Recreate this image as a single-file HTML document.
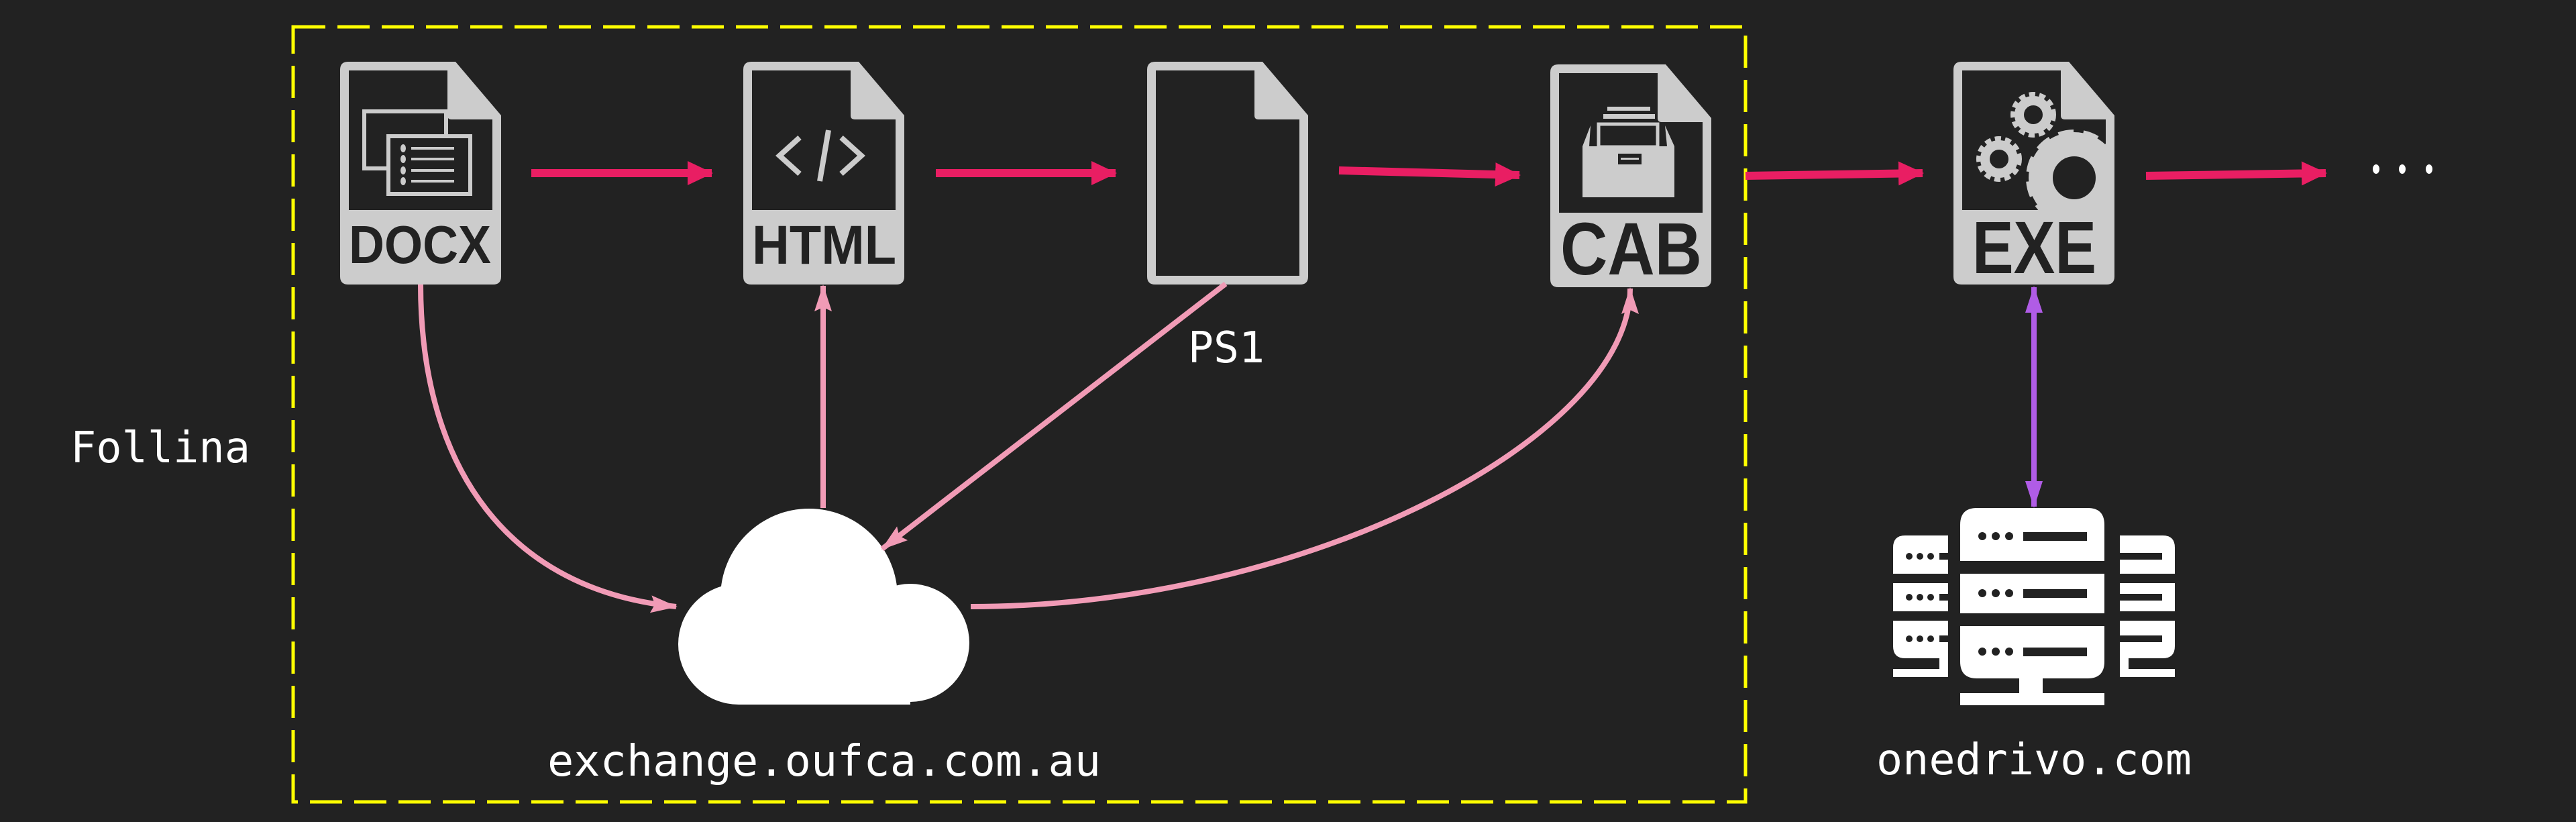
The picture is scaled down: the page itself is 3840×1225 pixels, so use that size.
<!DOCTYPE html>
<html><head><meta charset="utf-8"><style>
html,body{margin:0;padding:0;background:#222;}
svg{display:block}
.mono{font-family:"DejaVu Sans Mono","Liberation Mono",monospace;fill:#fff;font-size:64px}
.lab{font-family:"Liberation Sans",sans-serif;font-weight:bold;fill:#222}
</style></head><body>
<svg width="3840" height="1225" viewBox="0 0 3840 1225" xmlns="http://www.w3.org/2000/svg">
<defs>
<marker id="ar" markerUnits="userSpaceOnUse" markerWidth="40" markerHeight="40" viewBox="0 0 40 40" refX="36" refY="20" orient="auto"><path d="M0,2 L38,20 L0,38 Z" fill="#e91e63"/></marker>
<marker id="ap" markerUnits="userSpaceOnUse" markerWidth="40" markerHeight="30" viewBox="0 0 40 30" refX="38" refY="15" orient="auto"><path d="M0,2 L40,15 L0,28 L6,15 Z" fill="#f19bb6"/></marker>
<marker id="av" markerUnits="userSpaceOnUse" markerWidth="40" markerHeight="30" viewBox="0 0 40 30" refX="38" refY="15" orient="auto-start-reverse"><path d="M0,2 L40,15 L0,28 Z" fill="#b05ce6"/></marker>
<g id="fileOuter"><path d="M12,0 H172 L240,80 V320 Q240,332 228,332 H12 Q0,332 0,320 V12 Q0,0 12,0 Z" fill="#cccccc"/></g>
</defs>
<rect width="3840" height="1225" fill="#222"/>
<rect x="437" y="40" width="2165" height="1155" fill="none" stroke="#ffff00" stroke-width="5" stroke-dasharray="48 18"/>

<g transform="translate(507,92)">
<use href="#fileOuter"/>
<path d="M13,13 H160 V80 Q160,86 166,86 H227 V221 H13 Z" fill="#222"/>
<rect x="36" y="74" width="122" height="85" fill="#222" stroke="#ccc" stroke-width="6"/>
<rect x="72" y="111" width="122" height="86" fill="#222" stroke="#ccc" stroke-width="6"/>
<g fill="#ccc"><ellipse cx="94" cy="129" rx="4" ry="6"/><ellipse cx="94" cy="145" rx="4" ry="6"/><ellipse cx="94" cy="162" rx="4" ry="6"/><ellipse cx="94" cy="178" rx="4" ry="6"/>
<rect x="106" y="127" width="64" height="4"/><rect x="106" y="143" width="64" height="4"/><rect x="106" y="160" width="64" height="4"/><rect x="106" y="176" width="64" height="4"/></g>
<text class="lab" x="13" y="300" font-size="80" textLength="212" lengthAdjust="spacingAndGlyphs">DOCX</text>
</g>

<g transform="translate(1108,92)">
<use href="#fileOuter"/>
<path d="M13,13 H160 V80 Q160,86 166,86 H227 V221 H13 Z" fill="#222"/>
<g fill="none" stroke="#ccc" stroke-width="8"><path d="M84,113 L54,140 L84,167"/><path d="M146,113 L176,140 L146,167"/><path d="M127,102 L114,178"/></g>
<text class="lab" x="13" y="301" font-size="82" textLength="215" lengthAdjust="spacingAndGlyphs">HTML</text>
</g>

<g transform="translate(1710,92)">
<use href="#fileOuter"/>
<path d="M13,13 H160 V80 Q160,86 166,86 H227 V319 H13 Z" fill="#222"/>
</g>

<g transform="translate(2311,96)">
<use href="#fileOuter"/>
<path d="M13,13 H160 V80 Q160,86 166,86 H227 V221 H13 Z" fill="#222"/>
<g fill="#ccc">
<rect x="85" y="63" width="64" height="6"/><rect x="79" y="74" width="77" height="7"/>
<path d="M60,91 L58,122 L48,122 Z"/><path d="M171,91 L174,122 L185,122 Z"/>
<rect x="48" y="122" width="137" height="76"/>
<rect x="72" y="89" width="88" height="34" fill="#222" stroke="#ccc" stroke-width="5"/>
</g>
<rect x="101" y="133" width="35" height="16" fill="#222"/><rect x="105" y="139" width="27" height="3" fill="#ccc"/>
<text class="lab" x="15" y="313" font-size="110" textLength="211" lengthAdjust="spacingAndGlyphs">CAB</text>
</g>

<g transform="translate(2912,92)">
<use href="#fileOuter"/>
<path d="M13,13 H160 V80 Q160,86 166,86 H227 V221 H13 Z" fill="#222"/>
<clipPath id="exc"><rect x="13" y="13" width="214" height="208"/></clipPath>
<g clip-path="url(#exc)" fill="none" stroke="#ccc">
<circle cx="180" cy="173" r="50" stroke-width="36"/>
<circle cx="180" cy="173" r="66" stroke-width="12" stroke-dasharray="22 14"/>
<circle cx="119" cy="79" r="21" stroke-width="14"/>
<circle cx="119" cy="79" r="30" stroke-width="8" stroke-dasharray="9 6"/>
<circle cx="68" cy="145" r="21" stroke-width="14"/>
<circle cx="68" cy="145" r="30" stroke-width="8" stroke-dasharray="9 6"/>
</g>
<text class="lab" x="28" y="315" font-size="110" textLength="185" lengthAdjust="spacingAndGlyphs">EXE</text>
</g>

<g stroke="#e91e63" stroke-width="12" fill="none" marker-end="url(#ar)">
<line x1="792" y1="258" x2="1061" y2="258"/>
<line x1="1395" y1="258" x2="1663" y2="258"/>
<line x1="1996" y1="254" x2="2265" y2="261"/>
<line x1="2602" y1="262" x2="2866" y2="258"/>
<line x1="3199" y1="262" x2="3467" y2="258"/>
</g>
<g fill="#fff"><ellipse cx="3542" cy="252" rx="5" ry="7"/><ellipse cx="3581" cy="252" rx="5" ry="7"/><ellipse cx="3621" cy="252" rx="5" ry="7"/></g>

<g fill="#fff">
<circle cx="1206" cy="890" r="132"/>
<circle cx="1101" cy="960" r="90"/>
<circle cx="1357" cy="958" r="88"/>
<rect x="1101" y="880" width="256" height="170"/>
</g>

<g stroke="#f19bb6" stroke-width="8" fill="none" marker-end="url(#ap)">
<path d="M627,424 C627,700 760,880 1008,904"/>
<line x1="1227" y1="757" x2="1227" y2="426"/>
<line x1="1827" y1="423" x2="1315" y2="818"/>
<path d="M1447,904 C1950,904 2430,650 2430,430"/>
</g>

<line x1="3032" y1="428" x2="3032" y2="755" stroke="#b05ce6" stroke-width="8" marker-start="url(#av)" marker-end="url(#av)"/>

<g fill="#fff">
<path d="M2947,757 H3112 Q3137,757 3137,782 V836 H2922 V782 Q2922,757 2947,757 Z"/>
<rect x="2922" y="855" width="215" height="59"/>
<path d="M2922,933 H3137 V986 Q3137,1011 3112,1011 H2947 Q2922,1011 2922,986 Z"/>
<rect x="3010" y="1010" width="35" height="24"/>
<rect x="2922" y="1033" width="215" height="18"/>
<path d="M2840,798 H2904 V855 H2822 V816 Q2822,798 2840,798 Z"/>
<rect x="2822" y="869" width="82" height="42"/>
<path d="M2822,925 H2904 V1009 H2822 V997 H2891 V981 H2840 Q2822,981 2822,963 Z"/>
<path d="M3224,798 H3160 V855 H3242 V816 Q3242,798 3224,798 Z"/>
<rect x="3160" y="869" width="82" height="42"/>
<path d="M3242,925 H3160 V1009 H3242 V997 H3173 V981 H3224 Q3242,981 3242,963 Z"/>
</g>
<g fill="#222">
<rect x="3016" y="793" width="95" height="13"/><rect x="3016" y="878" width="95" height="13"/><rect x="3016" y="965" width="95" height="13"/>
<circle cx="2955" cy="799" r="6"/><circle cx="2975" cy="799" r="6"/><circle cx="2995" cy="799" r="6"/>
<circle cx="2955" cy="884" r="6"/><circle cx="2975" cy="884" r="6"/><circle cx="2995" cy="884" r="6"/>
<circle cx="2955" cy="971" r="6"/><circle cx="2975" cy="971" r="6"/><circle cx="2995" cy="971" r="6"/>
<circle cx="2846" cy="829" r="5"/><circle cx="2862" cy="829" r="5"/><circle cx="2878" cy="829" r="5"/>
<circle cx="2846" cy="890" r="5"/><circle cx="2862" cy="890" r="5"/><circle cx="2878" cy="890" r="5"/>
<circle cx="2846" cy="952" r="5"/><circle cx="2862" cy="952" r="5"/><circle cx="2878" cy="952" r="5"/>
<rect x="2891" y="824" width="13" height="10"/><rect x="2891" y="885" width="13" height="10"/><rect x="2891" y="947" width="13" height="10"/>
<rect x="3160" y="824" width="63" height="10"/><rect x="3160" y="885" width="63" height="10"/><rect x="3160" y="947" width="63" height="10"/>
</g>

<text class="mono" x="105" y="689" textLength="268" lengthAdjust="spacingAndGlyphs">Follina</text>
<text class="mono" x="1771" y="540" textLength="114" lengthAdjust="spacingAndGlyphs">PS1</text>
<text class="mono" x="816" y="1156" textLength="825" lengthAdjust="spacingAndGlyphs">exchange.oufca.com.au</text>
<text class="mono" x="2797" y="1154" textLength="470" lengthAdjust="spacingAndGlyphs">onedrivo.com</text>
</svg>
</body></html>
